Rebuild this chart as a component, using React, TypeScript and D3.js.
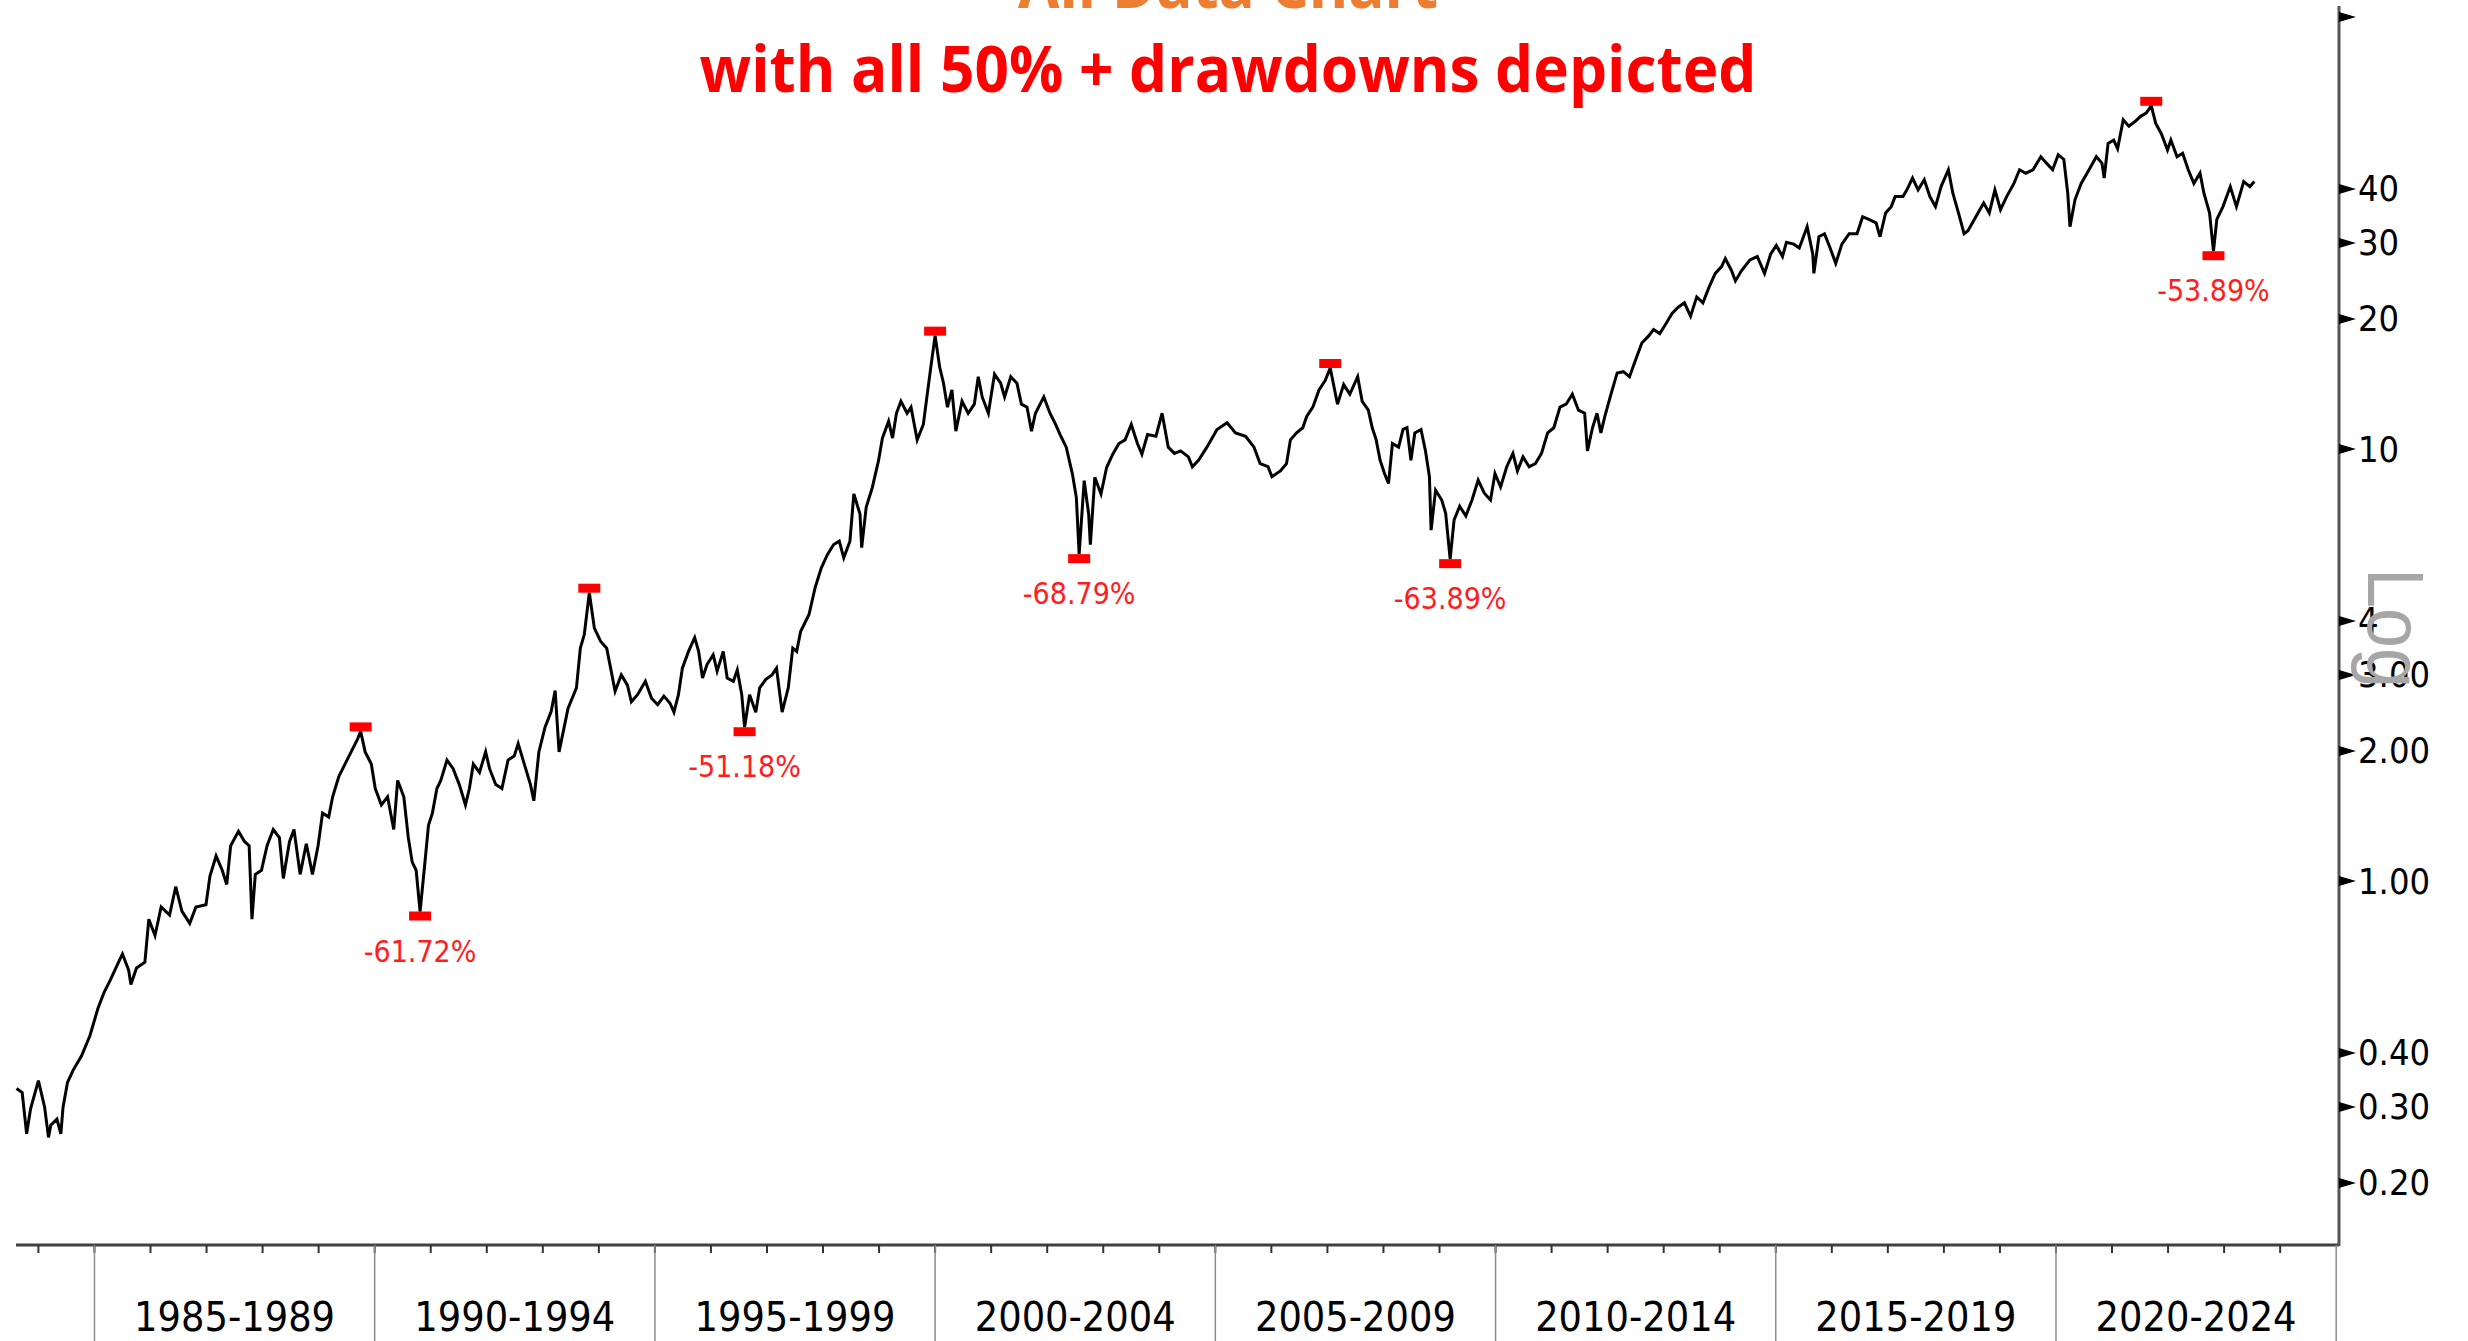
import React from 'react';
import * as d3 from 'd3';

// price history (decimal year, price)
const priceSeries: [number, number][] = [
  [1983.61, 0.331], [1983.71, 0.324], [1983.79, 0.26], [1983.86, 0.297], [1984.0, 0.345],
  [1984.11, 0.3], [1984.18, 0.255], [1984.22, 0.272], [1984.33, 0.281], [1984.4, 0.26],
  [1984.44, 0.3], [1984.52, 0.342], [1984.62, 0.365], [1984.77, 0.394], [1984.92, 0.439],
  [1985.06, 0.506], [1985.17, 0.552], [1985.28, 0.589], [1985.43, 0.649], [1985.5, 0.678],
  [1985.61, 0.622], [1985.65, 0.576], [1985.75, 0.629], [1985.9, 0.649], [1985.97, 0.816],
  [1986.08, 0.748], [1986.19, 0.871], [1986.34, 0.834], [1986.45, 0.97], [1986.56, 0.852],
  [1986.7, 0.798], [1986.81, 0.871], [1986.99, 0.881], [1987.06, 1.025], [1987.17, 1.143],
  [1987.28, 1.059], [1987.36, 0.982], [1987.43, 1.207], [1987.57, 1.303], [1987.68, 1.233],
  [1987.76, 1.207], [1987.81, 0.816], [1987.87, 1.036], [1987.98, 1.059], [1988.08, 1.207],
  [1988.19, 1.316], [1988.3, 1.26], [1988.37, 1.014], [1988.48, 1.233], [1988.56, 1.316],
  [1988.67, 1.036], [1988.78, 1.22], [1988.89, 1.036], [1988.99, 1.207], [1989.07, 1.436],
  [1989.18, 1.406], [1989.25, 1.567], [1989.36, 1.746], [1989.47, 1.865], [1989.58, 1.99],
  [1989.69, 2.124], [1989.75, 2.22], [1989.83, 1.99], [1989.94, 1.865], [1990.01, 1.637],
  [1990.12, 1.5], [1990.23, 1.567], [1990.34, 1.316], [1990.41, 1.709], [1990.52, 1.567],
  [1990.6, 1.26], [1990.67, 1.106], [1990.74, 1.059], [1990.81, 0.85], [1990.89, 1.082],
  [1990.96, 1.346], [1991.03, 1.436], [1991.11, 1.637], [1991.18, 1.709], [1991.29, 1.905],
  [1991.4, 1.82], [1991.51, 1.672], [1991.62, 1.5], [1991.69, 1.637], [1991.76, 1.865],
  [1991.87, 1.784], [1991.98, 1.99], [1992.05, 1.82], [1992.16, 1.672], [1992.27, 1.637],
  [1992.38, 1.905], [1992.49, 1.946], [1992.56, 2.08], [1992.67, 1.865], [1992.78, 1.672],
  [1992.84, 1.534], [1992.93, 1.99], [1993.04, 2.27], [1993.15, 2.47], [1993.22, 2.76],
  [1993.29, 1.99], [1993.45, 2.51], [1993.6, 2.8], [1993.67, 3.46], [1993.74, 3.72],
  [1993.83, 4.65], [1993.92, 3.85], [1994.03, 3.59], [1994.14, 3.46], [1994.21, 3.11],
  [1994.29, 2.75], [1994.4, 3.0], [1994.51, 2.84], [1994.58, 2.6], [1994.69, 2.7],
  [1994.83, 2.9], [1994.94, 2.65], [1995.05, 2.56], [1995.16, 2.68], [1995.27, 2.58],
  [1995.34, 2.46], [1995.42, 2.7], [1995.49, 3.11], [1995.6, 3.4], [1995.71, 3.66],
  [1995.78, 3.4], [1995.85, 2.95], [1995.93, 3.17], [1996.04, 3.34], [1996.11, 3.06],
  [1996.22, 3.4], [1996.29, 2.95], [1996.4, 2.9], [1996.47, 3.08], [1996.55, 2.7],
  [1996.6, 2.27], [1996.69, 2.7], [1996.8, 2.46], [1996.87, 2.8], [1996.98, 2.93],
  [1997.09, 3.0], [1997.17, 3.11], [1997.27, 2.46], [1997.38, 2.8], [1997.46, 3.46],
  [1997.53, 3.4], [1997.6, 3.78], [1997.75, 4.14], [1997.86, 4.78], [1997.97, 5.31],
  [1998.08, 5.7], [1998.19, 6.01], [1998.29, 6.12], [1998.37, 5.6], [1998.48, 6.12],
  [1998.55, 7.87], [1998.66, 7.07], [1998.69, 5.91], [1998.77, 7.33], [1998.88, 8.15],
  [1998.99, 9.4], [1999.06, 10.6], [1999.17, 11.6], [1999.24, 10.6], [1999.31, 12.1],
  [1999.39, 12.9], [1999.5, 12.1], [1999.57, 12.5], [1999.68, 10.5], [1999.79, 11.4],
  [1999.86, 13.4], [1999.93, 15.7], [2000.0, 18.3], [2000.08, 15.5], [2000.15, 14.2],
  [2000.22, 12.5], [2000.3, 13.7], [2000.37, 11.0], [2000.48, 12.9], [2000.59, 12.1],
  [2000.7, 12.7], [2000.77, 14.7], [2000.84, 13.2], [2000.95, 12.1], [2001.06, 14.9],
  [2001.17, 14.2], [2001.24, 13.2], [2001.35, 14.7], [2001.46, 14.2], [2001.54, 12.7],
  [2001.64, 12.5], [2001.72, 11.0], [2001.79, 12.1], [2001.94, 13.2], [2002.05, 12.1],
  [2002.15, 11.4], [2002.23, 10.8], [2002.34, 10.1], [2002.45, 8.75], [2002.52, 7.72],
  [2002.57, 5.71], [2002.66, 8.45], [2002.74, 7.07], [2002.77, 6.01], [2002.85, 8.6],
  [2002.96, 7.87], [2003.06, 9.06], [2003.17, 9.73], [2003.28, 10.3], [2003.39, 10.5],
  [2003.5, 11.4], [2003.61, 10.3], [2003.69, 9.73], [2003.79, 10.8], [2003.94, 10.7],
  [2004.05, 12.1], [2004.16, 10.1], [2004.27, 9.77], [2004.38, 9.9], [2004.52, 9.59],
  [2004.59, 9.1], [2004.7, 9.42], [2004.85, 10.1], [2005.03, 11.1], [2005.21, 11.5],
  [2005.36, 10.9], [2005.54, 10.7], [2005.69, 10.1], [2005.8, 9.25], [2005.94, 9.1],
  [2006.01, 8.63], [2006.16, 8.9], [2006.27, 9.25], [2006.34, 10.5], [2006.45, 10.9],
  [2006.56, 11.2], [2006.63, 11.9], [2006.74, 12.5], [2006.85, 13.7], [2006.96, 14.4],
  [2007.05, 15.4], [2007.18, 12.7], [2007.29, 14.1], [2007.4, 13.4], [2007.54, 14.7],
  [2007.62, 12.9], [2007.73, 12.3], [2007.8, 11.2], [2007.87, 10.5], [2007.94, 9.42],
  [2008.02, 8.77], [2008.09, 8.32], [2008.16, 10.3], [2008.27, 10.1], [2008.35, 11.1],
  [2008.42, 11.2], [2008.49, 9.42], [2008.56, 10.9], [2008.67, 11.1], [2008.75, 9.9],
  [2008.82, 8.63], [2008.85, 6.49], [2008.93, 8.03], [2009.04, 7.62], [2009.11, 7.1],
  [2009.19, 5.56], [2009.26, 6.85], [2009.36, 7.37], [2009.47, 7.0], [2009.58, 7.62],
  [2009.69, 8.47], [2009.8, 7.9], [2009.91, 7.62], [2009.99, 8.77], [2010.09, 8.17],
  [2010.2, 9.1], [2010.31, 9.77], [2010.39, 8.9], [2010.49, 9.59], [2010.6, 9.1],
  [2010.71, 9.25], [2010.82, 9.77], [2010.93, 10.9], [2011.04, 11.2], [2011.15, 12.5],
  [2011.26, 12.7], [2011.37, 13.4], [2011.48, 12.3], [2011.59, 12.1], [2011.64, 9.9],
  [2011.73, 11.2], [2011.81, 12.1], [2011.88, 10.9], [2011.95, 11.9], [2012.06, 13.4],
  [2012.17, 15.0], [2012.28, 15.1], [2012.39, 14.7], [2012.5, 16.1], [2012.61, 17.6],
  [2012.72, 18.2], [2012.82, 18.9], [2012.93, 18.5], [2013.04, 19.5], [2013.15, 20.6],
  [2013.26, 21.3], [2013.37, 21.8], [2013.48, 20.3], [2013.59, 22.5], [2013.7, 21.8],
  [2013.81, 23.7], [2013.92, 25.5], [2014.03, 26.4], [2014.1, 27.6], [2014.21, 25.9],
  [2014.28, 24.5], [2014.39, 25.9], [2014.54, 27.4], [2014.67, 27.9], [2014.8, 25.5],
  [2014.91, 28.3], [2015.01, 29.6], [2015.12, 27.9], [2015.19, 30.1], [2015.32, 29.8],
  [2015.42, 29.2], [2015.56, 32.7], [2015.66, 28.3], [2015.68, 25.5], [2015.77, 31.0],
  [2015.87, 31.5], [2015.97, 29.2], [2016.07, 26.9], [2016.18, 29.8], [2016.31, 31.5],
  [2016.45, 31.5], [2016.55, 34.5], [2016.66, 34.0], [2016.79, 33.4], [2016.86, 31.0],
  [2016.96, 35.2], [2017.06, 36.4], [2017.13, 38.4], [2017.27, 38.4], [2017.34, 39.8],
  [2017.44, 42.4], [2017.54, 39.8], [2017.65, 42.0], [2017.75, 38.4], [2017.85, 36.4],
  [2017.95, 40.5], [2018.08, 44.3], [2018.16, 39.1], [2018.26, 35.2], [2018.36, 31.5],
  [2018.43, 32.0], [2018.57, 34.5], [2018.71, 37.1], [2018.81, 35.2], [2018.91, 39.8],
  [2019.01, 35.8], [2019.12, 38.4], [2019.25, 41.2], [2019.35, 44.3], [2019.46, 43.5],
  [2019.59, 44.3], [2019.73, 47.5], [2019.83, 45.9], [2019.94, 44.3], [2020.04, 48.0],
  [2020.14, 46.8], [2020.21, 39.1], [2020.25, 32.7], [2020.34, 37.8], [2020.45, 41.2],
  [2020.59, 44.3], [2020.72, 47.5], [2020.82, 45.9], [2020.86, 42.4], [2020.93, 51.0],
  [2021.03, 51.9], [2021.1, 49.6], [2021.2, 57.8], [2021.3, 55.9], [2021.41, 57.3],
  [2021.51, 58.9], [2021.61, 59.9], [2021.7, 62.3], [2021.78, 56.7], [2021.88, 53.7],
  [2021.99, 49.2], [2022.05, 51.9], [2022.16, 47.5], [2022.26, 48.4], [2022.36, 44.3],
  [2022.46, 41.2], [2022.57, 43.5], [2022.64, 39.1], [2022.74, 35.2], [2022.81, 28.7],
  [2022.87, 34.0], [2022.98, 36.4], [2023.11, 40.5], [2023.22, 36.4], [2023.35, 41.6],
  [2023.46, 40.5], [2023.54, 41.6],
];

// drawdowns of 50% or more
const peakDates = [1989.75, 1993.83, 2000.0, 2007.05, 2021.7];
const peakValues = [2.22, 4.65, 18.3, 15.4, 62.3];
const troughDates = [1990.81, 1996.6, 2002.57, 2009.19, 2022.81];
const troughValues = [0.85, 2.27, 5.71, 5.56, 28.7];
const drawdownPct = [-61.72, -51.18, -68.79, -63.89, -53.89];

const periodStarts = [1985, 1990, 1995, 2000, 2005, 2010, 2015, 2020];
const periodLabels = ['1985-1989', '1990-1994', '1995-1999', '2000-2004', '2005-2009', '2010-2014', '2015-2019', '2020-2024'];
const yTickValues = [100, 40, 30, 20, 10, 4, 3, 2, 1, 0.4, 0.3, 0.2];
const yTickLabels = ['', '40', '30', '20', '10', '4', '3.00', '2.00', '1.00', '0.40', '0.30', '0.20'];

const W = 2468;
const H = 1341;
const plotLeft = 16;
const plotRight = 2339;
const plotBottom = 1245;

const condensed = "'DejaVu Sans Condensed', 'DejaVu Sans', sans-serif";

const App = () => {
  const x = d3.scaleLinear().domain([1983.6, 2025.05]).range([plotLeft, plotRight]);
  const y = d3.scaleLog().domain([0.1437, 109.5]).range([plotBottom, 0]);

  const line = d3.line<[number, number]>()
    .x(d => x(d[0]))
    .y(d => y(d[1]));

  const minorYears = d3.range(1984, 2025);
  const majorYears = [...periodStarts, 2025];

  return (
    <svg width={W} height={H} style={{ position: 'absolute', left: 0, top: 0, background: '#fff' }}>
      <rect width={W} height={H} fill="#fff" />

      {/* titles (first line is cut by the top edge, as in the original) */}
      <text x={1228} y={8} textAnchor="middle" fill="#ED7D31" fontFamily="'Open Sans', sans-serif"
        fontWeight={700} fontSize={64} textLength={420} lengthAdjust="spacingAndGlyphs">All Data Chart</text>
      <text x={1228} y={92} textAnchor="middle" fill="#FF0000" fontFamily="'Open Sans', sans-serif"
        fontWeight={700} fontSize={64} textLength={1057} lengthAdjust="spacingAndGlyphs">with all 50% + drawdowns depicted</text>

      {/* price line */}
      <path d={line(priceSeries) || ''} fill="none" stroke="#000" strokeWidth={3} strokeLinejoin="miter" />

      {/* drawdown markers */}
      {peakDates.map((d, i) => (
        <rect key={'p' + i} x={x(d) - 11} y={y(peakValues[i]) - 9} width={22} height={9} fill="#FF0000" />
      ))}
      {troughDates.map((d, i) => (
        <g key={'t' + i}>
          <rect x={x(d) - 11} y={y(troughValues[i])} width={22} height={9} fill="#FF0000" />
          <text x={x(d)} y={y(troughValues[i]) + 50} textAnchor="middle" fill="#FF1E1E"
            fontFamily={condensed} fontSize={30}>{drawdownPct[i].toFixed(2) + '%'}</text>
        </g>
      ))}

      {/* x axis */}
      <line x1={plotLeft} x2={plotRight} y1={plotBottom} y2={plotBottom} stroke="#404040" strokeWidth={3} />
      {minorYears.map(yr => (
        <line key={'m' + yr} x1={x(yr)} x2={x(yr)} y1={plotBottom} y2={plotBottom + 8} stroke="#333" strokeWidth={2} />
      ))}
      {majorYears.map(yr => (
        <line key={'M' + yr} x1={x(yr)} x2={x(yr)} y1={plotBottom} y2={H} stroke="#8c8c8c" strokeWidth={1.5} />
      ))}
      {periodStarts.map((yr, i) => (
        <text key={'l' + yr} x={x(yr + 2.5)} y={1331} textAnchor="middle" fill="#000"
          fontFamily={condensed} fontSize={41}>{periodLabels[i]}</text>
      ))}

      {/* y axis on the right, log scale */}
      <line x1={plotRight} x2={plotRight} y1={6} y2={plotBottom + 1} stroke="#555" strokeWidth={3} />
      {yTickValues.map((v, i) => (
        <g key={'y' + v} transform={`translate(${plotRight},${y(v)})`}>
          <path d="M0,-5L17,0L0,5Z" fill="#000" />
          <text x={19} y={0} dominantBaseline="central" fill="#000" fontFamily={condensed} fontSize={36}>
            {yTickLabels[i]}
          </text>
        </g>
      ))}
      <text transform={`translate(2368,568) rotate(90)`} fill="#A6A6A6" fontFamily="'Liberation Sans', sans-serif"
        fontSize={80} textLength={120} lengthAdjust="spacingAndGlyphs">Log</text>
    </svg>
  );
};

export default App;
